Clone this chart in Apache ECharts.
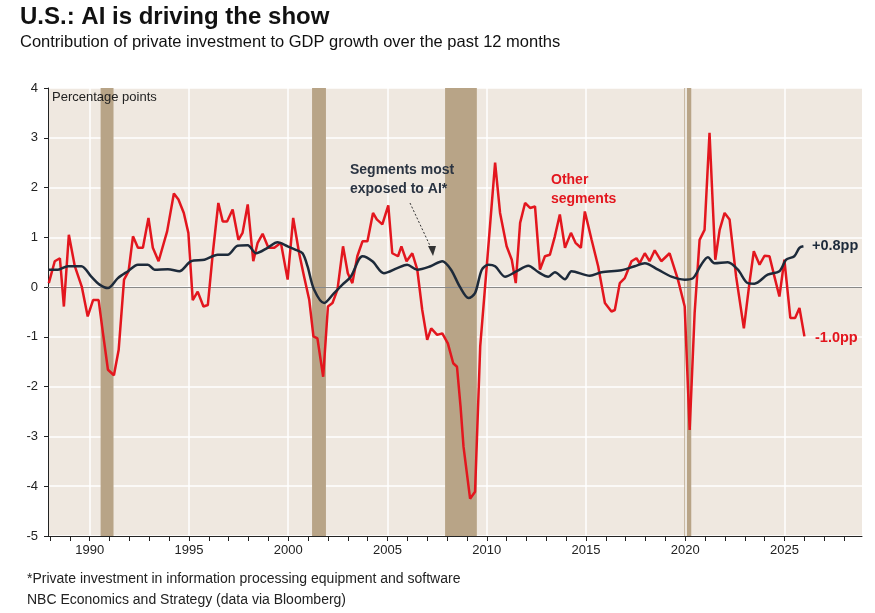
<!DOCTYPE html>
<html><head><meta charset="utf-8">
<script src="https://cdn.jsdelivr.net/npm/echarts@6/dist/echarts.min.js"></script>
<style>html,body{margin:0;padding:0;background:#fff}#c{width:875px;height:613px}</style>
</head><body><div id="c"></div>
<script>
const otherSegments = [[1987.94,0.08],[1988.24,0.52],[1988.5,0.58],[1988.7,-0.39],[1988.95,1.05],[1989.25,0.42],[1989.6,0.01],[1989.9,-0.59],[1990.17,-0.26],[1990.45,-0.26],[1990.67,-0.93],[1990.92,-1.66],[1991.22,-1.77],[1991.46,-1.26],[1991.73,0.15],[1991.96,0.32],[1992.18,1.02],[1992.43,0.79],[1992.68,0.79],[1992.96,1.39],[1993.18,0.79],[1993.47,0.52],[1993.9,1.12],[1994.24,1.88],[1994.47,1.76],[1994.74,1.49],[1994.97,1.09],[1995.19,-0.26],[1995.44,-0.09],[1995.73,-0.39],[1995.95,-0.36],[1996.2,0.68],[1996.48,1.69],[1996.7,1.32],[1996.92,1.32],[1997.2,1.56],[1997.49,0.95],[1997.7,1.09],[1997.96,1.66],[1998.24,0.52],[1998.46,0.89],[1998.71,1.07],[1999.0,0.79],[1999.3,0.79],[1999.63,0.89],[1999.97,0.15],[2000.25,1.39],[2000.55,0.68],[2000.8,0.21],[2001.06,-0.26],[2001.27,-0.99],[2001.47,-1.03],[2001.76,-1.8],[2002.0,-0.39],[2002.23,-0.32],[2002.48,-0.05],[2002.76,0.82],[2003.0,0.28],[2003.23,0.08],[2003.48,0.62],[2003.74,0.92],[2003.99,0.92],[2004.27,1.49],[2004.46,1.36],[2004.74,1.26],[2005.04,1.64],[2005.24,0.68],[2005.53,0.62],[2005.7,0.82],[2005.96,0.52],[2006.25,0.68],[2006.5,0.35],[2006.75,-0.46],[2007.0,-1.06],[2007.2,-0.83],[2007.5,-0.96],[2007.76,-0.93],[2008.04,-1.13],[2008.31,-1.53],[2008.5,-1.6],[2008.68,-2.4],[2008.83,-3.21],[2009.16,-4.25],[2009.41,-4.11],[2009.67,-1.19],[2010.0,0.42],[2010.42,2.5],[2010.67,1.49],[2011.0,0.82],[2011.26,0.55],[2011.46,0.08],[2011.68,1.29],[2011.93,1.69],[2012.18,1.59],[2012.43,1.62],[2012.68,0.35],[2012.93,0.62],[2013.18,0.65],[2013.43,1.02],[2013.68,1.46],[2013.94,0.79],[2014.24,1.09],[2014.47,0.89],[2014.74,0.79],[2014.94,1.52],[2015.28,0.95],[2015.61,0.42],[2015.95,-0.32],[2016.28,-0.49],[2016.45,-0.46],[2016.7,0.08],[2016.95,0.18],[2017.29,0.52],[2017.54,0.58],[2017.7,0.48],[2017.96,0.68],[2018.2,0.52],[2018.46,0.74],[2018.79,0.52],[2019.21,0.68],[2019.63,0.15],[2019.97,-0.39],[2020.22,-2.87],[2020.47,-0.52],[2020.72,0.95],[2020.97,1.15],[2021.22,3.1],[2021.51,0.55],[2021.73,1.15],[2021.98,1.49],[2022.23,1.36],[2022.56,0.21],[2022.95,-0.83],[2023.23,0.08],[2023.45,0.72],[2023.74,0.45],[2023.99,0.63],[2024.24,0.62],[2024.49,0.21],[2024.74,-0.19],[2024.99,0.55],[2025.29,-0.62],[2025.53,-0.62],[2025.75,-0.42],[2026.0,-0.99]];
const aiSegments = [[1987.94,0.35],[1988.4,0.35],[1988.9,0.42],[1989.58,0.42],[1990.08,0.21],[1990.5,0.05],[1990.92,-0.02],[1991.42,0.18],[1991.93,0.32],[1992.43,0.45],[1992.93,0.45],[1993.27,0.35],[1993.94,0.36],[1994.52,0.32],[1995.1,0.52],[1995.78,0.55],[1996.45,0.65],[1996.95,0.65],[1997.45,0.83],[1997.96,0.84],[1998.38,0.68],[1998.96,0.79],[1999.46,0.9],[1999.97,0.82],[2000.38,0.75],[2000.72,0.68],[2000.97,0.42],[2001.3,-0.05],[2001.81,-0.32],[2002.31,-0.12],[2002.73,0.05],[2003.15,0.21],[2003.74,0.62],[2004.24,0.52],[2004.82,0.28],[2005.49,0.38],[2005.99,0.45],[2006.5,0.35],[2007.17,0.42],[2007.76,0.52],[2008.2,0.35],[2008.64,0.01],[2009.08,-0.22],[2009.41,-0.12],[2009.75,0.35],[2010.08,0.45],[2010.42,0.42],[2010.92,0.21],[2011.51,0.32],[2012.09,0.43],[2012.6,0.3],[2013.1,0.21],[2013.43,0.3],[2013.94,0.16],[2014.27,0.32],[2015.19,0.23],[2015.78,0.3],[2016.78,0.34],[2017.45,0.42],[2017.96,0.48],[2018.63,0.35],[2019.3,0.21],[2019.97,0.15],[2020.39,0.18],[2020.8,0.45],[2021.14,0.6],[2021.47,0.48],[2022.14,0.5],[2022.65,0.35],[2023.15,0.08],[2023.48,0.07],[2024.15,0.25],[2024.74,0.32],[2025.08,0.55],[2025.49,0.62],[2025.75,0.79],[2025.95,0.82]];
const recessions = [[1990.55,1991.2],[2001.2,2001.9],[2007.9,2009.5],[2019.95,2020.3]];
const yearTicks = [];
for (let y = 1988; y <= 2028; y++) yearTicks.push(y);
const labelYears = [1990,1995,2000,2005,2010,2015,2020,2025];

const chart = echarts.init(document.getElementById('c'));
chart.setOption({
  animation:false,
  backgroundColor:'#fff',
  textStyle:{fontFamily:'Liberation Sans, Arial'},
  grid:{left:48,right:13,top:88,bottom:77,show:true,backgroundColor:'#efe8e0',borderWidth:0},
  xAxis:{type:'value',min:1987.9,max:2028.9,
    axisLine:{show:true,onZero:false,lineStyle:{color:'#222'}},
    axisTick:{show:true,customValues:yearTicks,length:5,lineStyle:{color:'#222'}},
    axisLabel:{customValues:labelYears,formatter:v=>String(v),color:'#222',fontSize:13,margin:8},
    splitLine:{show:false}},
  yAxis:{type:'value',min:-5,max:4,interval:1,
    axisLine:{show:true,lineStyle:{color:'#222'}},
    axisTick:{show:true,length:4,lineStyle:{color:'#222'}},
    axisLabel:{color:'#222',fontSize:13,margin:10},
    splitLine:{show:true,lineStyle:{color:'#ffffff',width:1.5}}},
  series:[
    {type:'line',data:[],silent:true,z:1,
      markArea:{silent:true,z:1,itemStyle:{color:'#b8a487'},data:recessions.map(r=>[{xAxis:r[0]},{xAxis:r[1]}])},
      markLine:{silent:true,z:1,symbol:'none',label:{show:false},lineStyle:{color:'#ffffff',width:1.5,type:'solid'},
        data:labelYears.map(y=>({xAxis:y})).concat([{yAxis:0,lineStyle:{color:'#888',width:1.2}}])}},
    {name:'Other segments',type:'line',data:otherSegments,showSymbol:false,lineStyle:{color:'#e3161e',width:2.5},itemStyle:{color:'#e3161e'},z:5},
    {name:'AI',type:'line',data:aiSegments,showSymbol:false,smooth:0.3,lineStyle:{color:'#1d2a3a',width:2.5},itemStyle:{color:'#1d2a3a'},z:6}
  ],
  graphic:[
    {type:'text',z:100,left:20,top:5,style:{text:'U.S.: AI is driving the show',font:'bold 24px Liberation Sans, Arial',fill:'#111'}},
    {type:'text',z:100,left:20,top:34,style:{text:'Contribution of private investment to GDP growth over the past 12 months',font:'16.5px Liberation Sans, Arial',fill:'#111'}},
    {type:'text',z:100,left:52,top:91,style:{text:'Percentage points',font:'13px Liberation Sans, Arial',fill:'#222'}},
    {type:'text',z:100,left:350,top:161,style:{text:'Segments most\nexposed to AI*',font:'bold 14px Liberation Sans, Arial',fill:'#2b3442',align:'center',lineHeight:19}},
    {type:'line',z:100,shape:{x1:410,y1:203,x2:432,y2:250},style:{stroke:'#333',lineWidth:1,lineDash:[2,2]}},
    {type:'polygon',z:100,shape:{points:[[428,246],[436,246],[433,256]]},style:{fill:'#333'}},
    {type:'text',z:100,left:551,top:171,style:{text:'Other\nsegments',font:'bold 14px Liberation Sans, Arial',fill:'#e3161e',align:'center',lineHeight:19}},
    {type:'text',z:100,left:812,top:238,style:{text:'+0.8pp',font:'bold 14.5px Liberation Sans, Arial',fill:'#1d2a3a'}},
    {type:'text',z:100,left:815,top:330,style:{text:'-1.0pp',font:'bold 14.5px Liberation Sans, Arial',fill:'#e3161e'}},
    {type:'text',z:100,left:27,top:572,style:{text:'*Private investment in information processing equipment and software',font:'14px Liberation Sans, Arial',fill:'#222'}},
    {type:'text',z:100,left:27,top:593,style:{text:'NBC Economics and Strategy (data via Bloomberg)',font:'14px Liberation Sans, Arial',fill:'#222'}}
  ]
});
</script></body></html>
